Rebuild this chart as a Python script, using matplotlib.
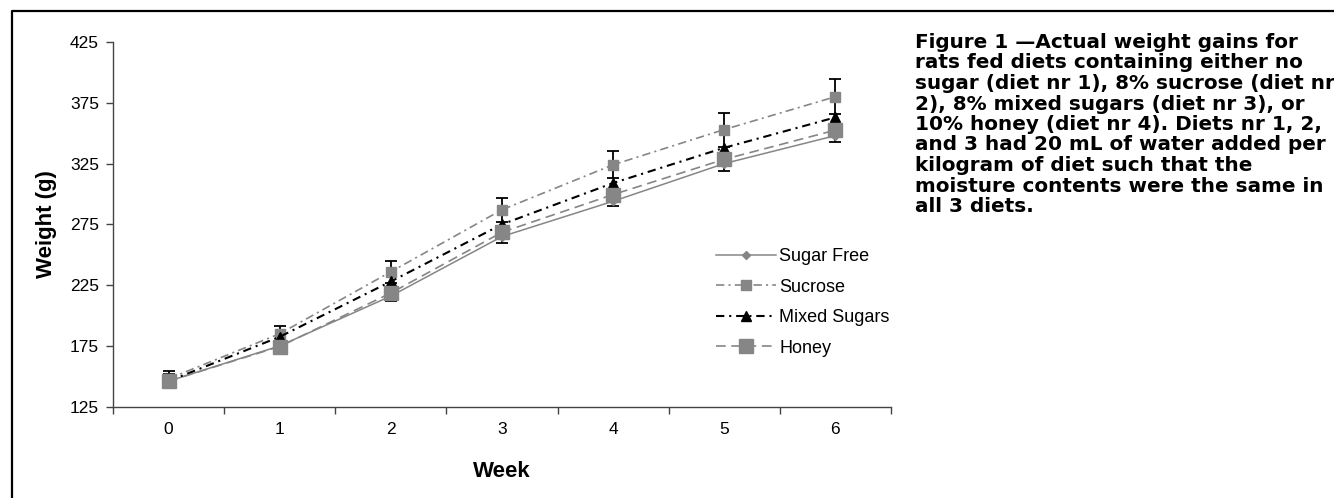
import matplotlib
matplotlib.use("Agg")
import matplotlib.pyplot as plt
from matplotlib.lines import Line2D
import numpy as np

plt.rcParams["font.family"] = ["Liberation Sans", "DejaVu Sans"]
plt.rcParams["lines.scale_dashes"] = False

# Weekly body weights (g)
weeks = [0, 1, 2, 3, 4, 5, 6]
week_labels = ["0", "1", "2", "3", "4", "5", "6"]
sugar_free = [146, 175, 216, 265, 294, 325, 348]
sucrose = [148, 185, 236, 287, 324, 353, 380]
mixed_sugars = [146, 182.5, 228, 275, 309, 338, 363]
honey = [146, 174.5, 218.5, 268.5, 299.5, 328.5, 352.5]

# Standard errors shown for the lowest and highest groups
sugar_free_err = [6, 4, 4, 5, 4, 6, 5]
sucrose_err = [6.5, 6.5, 9, 10, 11, 14, 14.5]

series_names = ["Sugar Free", "Sucrose", "Mixed Sugars", "Honey"]
y_ticks = [125, 175, 225, 275, 325, 375, 425]

caption = ("Figure 1 \u2014Actual weight gains for\n"
           "rats fed diets containing either no\n"
           "sugar (diet nr 1), 8% sucrose (diet nr\n"
           "2), 8% mixed sugars (diet nr 3), or\n"
           "10% honey (diet nr 4). Diets nr 1, 2,\n"
           "and 3 had 20 mL of water added per\n"
           "kilogram of diet such that the\n"
           "moisture contents were the same in\n"
           "all 3 diets.")

W, H = 1334, 498
fig = plt.figure(figsize=(W / 100, H / 100), dpi=100)
ax = fig.add_axes([113 / W, 1 - 406.7 / H, 778 / W, 364.7 / H])

gray = "#868686"
x = np.array(weeks)

# error bars beneath the markers
ax.errorbar(x, sucrose, yerr=sucrose_err, fmt="none", ecolor="black",
            elinewidth=1.3, capsize=4.5, capthick=1.3, zorder=2)
ax.errorbar(x, sugar_free, yerr=sugar_free_err, fmt="none", ecolor="black",
            elinewidth=1.3, capsize=4.5, capthick=1.3, zorder=2)

h1, = ax.plot(x, sugar_free, color=gray, lw=1.1, ls="-", marker="D",
              ms=3.8, mfc=gray, mec=gray, zorder=3, label=series_names[0])
h2, = ax.plot(x, sucrose, color=gray, lw=1.2, dashes=(6, 3, 1.5, 3),
              marker="s", ms=7, mfc=gray, mec=gray, zorder=3,
              label=series_names[1])
h3, = ax.plot(x, mixed_sugars, color="black", lw=1.5, dashes=(6, 3.5, 1.5, 3.5),
              marker="^", ms=7.5, mfc="black", mec="black", zorder=4,
              label=series_names[2])
h4, = ax.plot(x, honey, color=gray, lw=1.2, dashes=(7, 4),
              marker="s", ms=9.5, mfc=gray, mec=gray, zorder=5,
              label=series_names[3])

ax.set_xlim(-0.5, 6.5)
ax.set_ylim(125, 425)
ax.set_yticks(y_ticks)
ax.set_yticklabels([str(v) for v in y_ticks])
ax.set_xticks(np.arange(-0.5, 7.0, 1.0))
ax.set_xticklabels([])
ax.set_xticks(x, minor=True)
ax.set_xticklabels(week_labels, minor=True)
ax.tick_params(axis="x", which="major", direction="out", length=5,
               width=1, color="#444444")
ax.tick_params(axis="x", which="minor", length=0, pad=11, labelsize=12.5)
ax.tick_params(axis="y", direction="out", length=5, width=1,
               color="#444444", pad=5, labelsize=12.5)

for side in ("top", "right"):
    ax.spines[side].set_visible(False)
for side in ("left", "bottom"):
    ax.spines[side].set_color("#444444")
    ax.spines[side].set_linewidth(1.0)

ax.set_xlabel("Week", fontsize=16, fontweight="bold")
ax.xaxis.set_label_coords(0.5, -0.15)
ax.set_ylabel("Weight (g)", fontsize=16, fontweight="bold")
ax.yaxis.set_label_coords(-0.072, 0.5)

leg = fig.legend(handles=[h1, h2, h3, h4], loc="upper left",
                 bbox_to_anchor=(716 / W, 1 - 248 / H), frameon=False,
                 fontsize=13, handlelength=3.3, handletextpad=0.2,
                 labelspacing=0.75, borderpad=0, borderaxespad=0)

fig.text(915 / W, 1 - 33 / H, caption, ha="left", va="top",
         fontsize=14.4, fontweight="bold", family="DejaVu Sans",
         linespacing=1.1)

# page frame along the top and left edges
fig.add_artist(Line2D([12 / W, 12 / W, 1.0], [0.0, 1 - 11 / H, 1 - 11 / H],
                      transform=fig.transFigure, color="black", lw=1.6))

fig.savefig("out.png", dpi=100)
